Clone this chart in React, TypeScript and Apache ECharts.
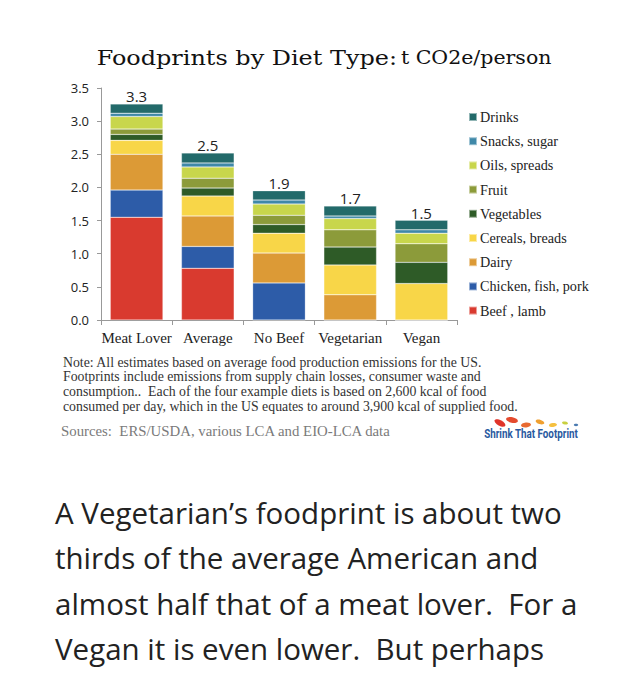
import React, { useEffect, useRef } from "react";
import * as echarts from "echarts";

const categories = ["Meat Lover", "Average", "No Beef", "Vegetarian", "Vegan"];
const totals = ["3.3", "2.5", "1.9", "1.7", "1.5"];
const yTicks = { min: 0, max: 3.5, interval: 0.5 };

const beefLamb = [1.55, 0.78, 0, 0, 0];
const chickenFishPork = [0.41, 0.33, 0.56, 0, 0];
const dairy = [0.54, 0.46, 0.45, 0.38, 0];
const cerealsBreads = [0.21, 0.3, 0.3, 0.45, 0.55];
const vegetables = [0.09, 0.12, 0.13, 0.27, 0.32];
const fruit = [0.08, 0.15, 0.14, 0.26, 0.28];
const oilsSpreads = [0.19, 0.17, 0.17, 0.17, 0.16];
const snacksSugar = [0.05, 0.06, 0.06, 0.04, 0.05];
const drinks = [0.14, 0.15, 0.14, 0.15, 0.145];

const seriesDefs = [
  { name: "Beef , lamb", data: beefLamb, color: "#d93a2f" },
  { name: "Chicken, fish, pork", data: chickenFishPork, color: "#2d5ca8" },
  { name: "Dairy", data: dairy, color: "#dc9a36" },
  { name: "Cereals, breads", data: cerealsBreads, color: "#f8d648" },
  { name: "Vegetables", data: vegetables, color: "#2e5b27" },
  { name: "Fruit", data: fruit, color: "#8c9b3a" },
  { name: "Oils, spreads", data: oilsSpreads, color: "#c8d64c" },
  { name: "Snacks, sugar", data: snacksSugar, color: "#3f88a8" },
  { name: "Drinks", data: drinks, color: "#236a6a" },
];

const noteLines = [
  "Note: All estimates based on average food production emissions for the US.",
  "Footprints include emissions from supply chain losses, consumer waste and",
  "consumption..  Each of the four example diets is based on 2,600 kcal of food",
  "consumed per day, which in the US equates to around 3,900 kcal of supplied food.",
];
const sourceText = "Sources:  ERS/USDA, various LCA and EIO-LCA data";
const logoText = "Shrink That Footprint";
const paragraphLines = [
  "A Vegetarian\u2019s foodprint is about two",
  "thirds of the average American and",
  "almost half that of a meat lover.  For a",
  "Vegan it is even lower.  But perhaps",
];

const SERIF = "'Liberation Serif', 'DejaVu Serif', serif";
const WIDE_SERIF = "'DejaVu Serif', 'Liberation Serif', serif";
const SANS = "'Open Sans', 'Liberation Sans', sans-serif";

export default function App() {
  const ref = useRef<HTMLDivElement>(null);
  useEffect(() => {
    if (!ref.current) return;
    const chart = echarts.init(ref.current, undefined, { renderer: "svg" });
    const series: any[] = seriesDefs.map((s, i) => ({
      name: s.name,
      type: "bar",
      stack: "total",
      data: s.data,
      barCategoryGap: "26%",
      itemStyle: { color: s.color, borderColor: "rgba(255,255,255,0.5)", borderWidth: 0.5 },
      label:
        i === seriesDefs.length - 1
          ? {
              show: true,
              position: "top",
              distance: 0,
              formatter: (p: any) => totals[p.dataIndex],
              fontFamily: SANS,
              fontSize: 15,
              color: "#222",
            }
          : { show: false },
    }));

    const graphics: any[] = [];
    graphics.push({
      type: "text",
      x: 324,
      y: 58,
      scaleX: 1.14,
      style: {
        text: "{a|Foodprints by Diet Type:} {b|t CO2e/person}",
        textAlign: "center",
        textVerticalAlign: "middle",
        rich: {
          a: { fontFamily: WIDE_SERIF, fontSize: 21, fill: "#111" },
          b: { fontFamily: WIDE_SERIF, fontSize: 18, fill: "#111" },
        },
      },
    });
    noteLines.forEach((t, i) => {
      graphics.push({
        type: "text",
        x: 63,
        y: 362 + i * 14.7,
        style: {
          text: t,
          fontFamily: SERIF,
          fontSize: 13.8,
          fill: "#333",
          textVerticalAlign: "middle",
        },
      });
    });
    graphics.push({
      type: "text",
      x: 61,
      y: 431,
      style: { text: sourceText, fontFamily: SERIF, fontSize: 14.8, fill: "#7a7a7a", textVerticalAlign: "middle" },
    });
    const prints = [
      { x: 500, y: 423, rx: 6, ry: 2.8, r: -0.5, c: "#e0342a" },
      { x: 512, y: 420, rx: 6, ry: 2.8, r: -0.2, c: "#e44a2e" },
      { x: 526, y: 425, rx: 5, ry: 2.4, r: 0.1, c: "#e86a32" },
      { x: 540, y: 422, rx: 4.5, ry: 2.2, r: -0.3, c: "#f0a030" },
      { x: 553, y: 425, rx: 4, ry: 2, r: 0.1, c: "#f5c040" },
      { x: 565, y: 423, rx: 3, ry: 1.5, r: -0.2, c: "#c8d040" },
      { x: 576, y: 425, rx: 2.2, ry: 1.2, r: 0, c: "#4a7ab0" },
    ];
    prints.forEach((p) => {
      graphics.push({
        type: "ellipse",
        x: p.x,
        y: p.y,
        rotation: p.r,
        shape: { cx: 0, cy: 0, rx: p.rx, ry: p.ry },
        style: { fill: p.c },
      });
    });
    graphics.push({
      type: "text",
      x: 531,
      y: 434,
      scaleX: 0.82,
      style: {
        text: logoText,
        fontFamily: "Roboto, 'Liberation Sans', sans-serif",
        fontWeight: "bold",
        fontSize: 12,
        fill: "#2a5aa0",
        textAlign: "center",
        textVerticalAlign: "middle",
      },
    });
    paragraphLines.forEach((t, i) => {
      graphics.push({
        type: "text",
        x: 55,
        y: 512 + i * 45.5,
        style: { text: t, fontFamily: SANS, fontSize: 29.5, fill: "#222", textVerticalAlign: "middle" },
      });
    });

    chart.setOption({
      animation: false,
      backgroundColor: "#fff",
      grid: { left: 101, right: 185, top: 88, bottom: 360, containLabel: false },
      legend: {
        orient: "vertical",
        left: 463,
        top: 105,
        itemWidth: 8,
        itemHeight: 8,
        itemGap: 10.2,
        icon: "rect",
        data: seriesDefs.map((s) => s.name).reverse(),
        textStyle: { fontFamily: SERIF, fontSize: 14.2, color: "#222", padding: [0, 0, 0, -2] },
        selectedMode: false,
      },
      xAxis: {
        type: "category",
        data: categories,
        axisLine: { lineStyle: { color: "#999" } },
        axisTick: { show: true, alignWithLabel: false, length: 5, lineStyle: { color: "#999" } },
        axisLabel: { fontFamily: SERIF, fontSize: 15, color: "#222", margin: 10, interval: 0 },
      },
      yAxis: {
        type: "value",
        min: yTicks.min,
        max: yTicks.max,
        interval: yTicks.interval,
        axisLine: { show: true, lineStyle: { color: "#999" } },
        axisTick: { show: true, length: 4, lineStyle: { color: "#999" } },
        splitLine: { show: false },
        axisLabel: {
          fontFamily: SANS,
          fontSize: 13,
          color: "#222",
          margin: 12,
          formatter: (v: number) => v.toFixed(1),
        },
      },
      graphic: graphics,
      series,
    });
    return () => chart.dispose();
  }, []);
  return (
    <div
      ref={ref}
      style={{ position: "absolute", left: 0, top: 0, width: 642, height: 680 }}
    />
  );
}
